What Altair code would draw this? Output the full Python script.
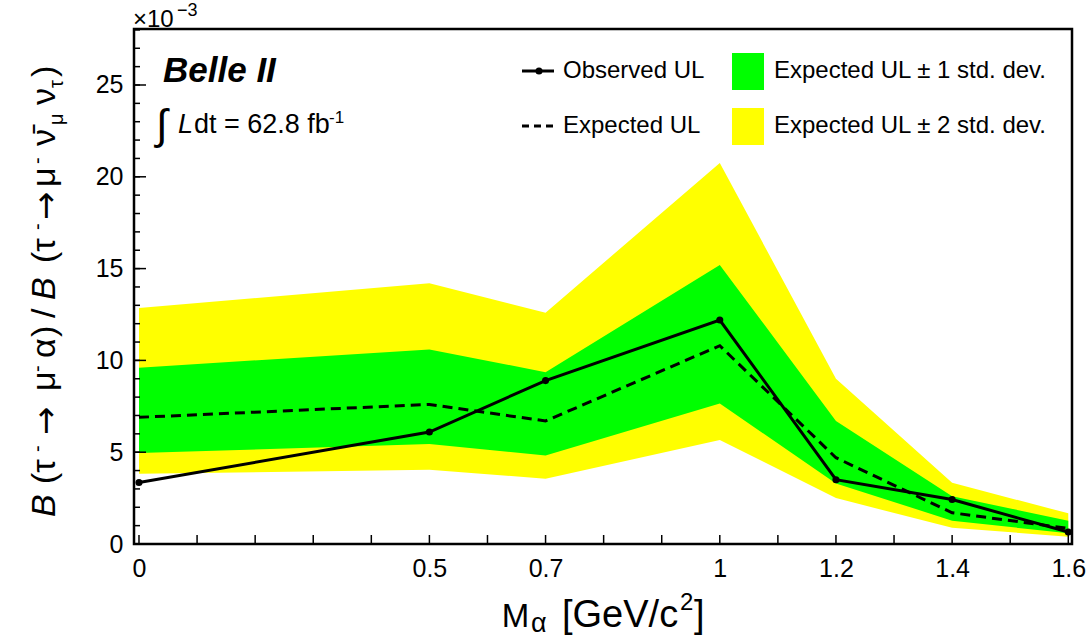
import altair as alt
import pandas as pd

# ---------------- data ----------------
mass = [0.0, 0.5, 0.7, 1.0, 1.2, 1.4, 1.6]
observed = [3.35, 6.1, 8.9, 12.2, 3.5, 2.42, 0.65]
expected = [6.9, 7.6, 6.7, 10.8, 4.7, 1.7, 0.85]
band1_lo = [4.95, 5.45, 4.82, 7.65, 3.3, 1.27, 0.58]
band1_hi = [9.6, 10.6, 9.36, 15.2, 6.7, 2.6, 1.27]
band2_lo = [3.82, 4.05, 3.55, 5.67, 2.5, 0.88, 0.4]
band2_hi = [12.85, 14.2, 12.6, 20.75, 9.0, 3.33, 1.67]

x_tick_values = [round(i * 0.1, 1) for i in range(17)]
x_label_values = [0, 0.5, 0.7, 1, 1.2, 1.4, 1.6]
y_major_values = [0, 5, 10, 15, 20, 25]
y_minor_values = list(range(0, 29))

df = pd.DataFrame({
    "mass": mass, "obs": observed, "exp": expected,
    "lo1": band1_lo, "hi1": band1_hi, "lo2": band2_lo, "hi2": band2_hi,
})

W, H = 938, 515
FONT = "Liberation Sans"
xscale = alt.Scale(domain=[-0.0086, 1.6064], nice=False, zero=False)
yscale = alt.Scale(domain=[0, 28.05], nice=False, zero=False)

label_expr = (
    "indexof([0,0.5,0.7,1,1.2,1.4,1.6], datum.value) >= 0 ? "
    "(datum.value == 0 ? '0' : (datum.value == 1 ? '1' : format(datum.value, '.1f'))) : ''"
)
x_axis = alt.Axis(values=x_tick_values, labelExpr=label_expr, ticks=False, tickSize=0,
                  domain=False, grid=False, title=None, labelFont=FONT, labelFontSize=25,
                  labelColor="black", labelPadding=12, labelOverlap=False, labelFlush=False)
y_axis = alt.Axis(values=y_major_values, ticks=False, tickSize=0, domain=False, grid=False,
                  title=None, labelFont=FONT, labelFontSize=25, labelColor="black",
                  labelPadding=11, labelOverlap=False, labelFlush=False)


def X(f):
    return alt.X(f, type="quantitative", scale=xscale, axis=x_axis)


def Y(f):
    return alt.Y(f, type="quantitative", scale=yscale, axis=y_axis)


base = alt.Chart(df)

yellow = base.mark_area(color="#FFFF00", opacity=1).encode(x=X("mass"), y=Y("lo2"), y2="hi2:Q")
green = base.mark_area(color="#00FF00", opacity=1).encode(x=X("mass"), y=Y("lo1"), y2="hi1:Q")
exp_line = base.mark_line(color="black", strokeWidth=3, strokeDash=[10, 6]).encode(x=X("mass"), y=Y("exp"))
obs_line = base.mark_line(color="black", strokeWidth=3).encode(x=X("mass"), y=Y("obs"))
obs_pts = base.mark_point(color="black", filled=True, size=50, opacity=1).encode(x=X("mass"), y=Y("obs"))

# inward ticks
xt = alt.Chart(pd.DataFrame({"mass": x_tick_values})).mark_rule(color="black", strokeWidth=1.5).encode(
    x=X("mass"), y=alt.value(H), y2=alt.value(H - 9))
ymaj = alt.Chart(pd.DataFrame({"obs": y_major_values})).mark_rule(color="black", strokeWidth=1.5).encode(
    y=Y("obs"), x=alt.value(0), x2=alt.value(12))
ymin = alt.Chart(pd.DataFrame({"obs": y_minor_values})).mark_rule(color="black", strokeWidth=1.5).encode(
    y=Y("obs"), x=alt.value(0), x2=alt.value(6))

one = alt.Data(values=[{}])

frame = alt.Chart(one).mark_rect(fillOpacity=0, stroke="black", strokeWidth=2.5).encode(
    x=alt.value(0), x2=alt.value(W), y=alt.value(0), y2=alt.value(H))


def txt(s, x, y, size, style="normal", weight="normal", angle=0, baseline="alphabetic",
        align="left", font=FONT):
    kw = dict(text=s, font=font, fontSize=size, fontStyle=style, fontWeight=weight,
              align=align, baseline=baseline, color="black")
    if angle:
        kw["angle"] = angle
    return alt.Chart(one).mark_text(**kw).encode(x=alt.value(x), y=alt.value(y))


# y title pieces: (text, bottom y in page px, size, style, kind)
YB = 55 - 134        # baseline x of the rotated title (plot coords)
y_title = [
    ("B", 517, 34, "italic", "n"),
    ("(τ", 484, 34, "normal", "n"),
    ("-", 452, 20, "normal", "sup"),
    ("→", 435, 34, "normal", "arrow"),
    ("μ", 391, 34, "normal", "n"),
    ("-", 372, 20, "normal", "sup"),
    ("α", 358, 34, "normal", "n"),
    (")", 337, 34, "normal", "n"),
    ("/", 318, 34, "normal", "n"),
    ("B", 300, 34, "italic", "n"),
    ("(τ", 263, 34, "normal", "n"),
    ("-", 230, 20, "normal", "sup"),
    ("→", 220, 34, "normal", "arrow"),
    ("μ", 187, 34, "normal", "n"),
    ("-", 164, 20, "normal", "sup"),
    ("ν\u0304", 146, 34, "normal", "n"),
    ("μ", 125, 20, "normal", "sub"),
    ("ν", 105, 34, "normal", "n"),
    ("τ", 88, 20, "normal", "sub"),
    (")", 77, 34, "normal", "n"),
]
ytexts = []
for s, yb, size, style, kind in y_title:
    bx = YB
    font = FONT
    if kind == "sup":
        bx = YB - 11
    elif kind == "sub":
        bx = YB + 8
    elif kind == "arrow":
        font = "DejaVu Sans"
        bx = YB + 2
    ytexts.append(txt(s, bx, yb - 29, size, style=style, angle=270, font=font))

texts = [
    # x10^-3
    txt("×10", -1, -2, 24),
    txt("−3", 43, -13, 18),
    # Belle II and luminosity
    txt("Belle II", 29, 53, 35, style="italic", weight="bold"),
    txt("∫", 22, 110, 42),
    txt("L", 44, 104, 27, style="italic"),
    txt("dt = 62.8 fb", 60, 104, 27),
    txt("-1", 195, 94, 17),
    # legend texts
    txt("Observed UL", 429, 42, 24, baseline="middle"),
    txt("Expected UL", 429, 97, 24, baseline="middle"),
    txt("Expected UL ± 1 std. dev.", 640, 42, 24, baseline="middle"),
    txt("Expected UL ± 2 std. dev.", 640, 97, 24, baseline="middle"),
    # x title
    txt("M", 367.7, 597.7, 33),
    txt("α", 397, 603, 27),
    txt("[GeV/c", 428, 597.7, 38),
    txt("2", 546, 581, 24),
    txt("]", 560, 597.7, 38),
]

leg_obs = alt.Chart(one).mark_rule(color="black", strokeWidth=3).encode(
    x=alt.value(388), x2=alt.value(420), y=alt.value(42))
leg_dot = alt.Chart(one).mark_point(color="black", filled=True, size=50, opacity=1).encode(
    x=alt.value(405), y=alt.value(42))
leg_exp = alt.Chart(one).mark_rule(color="black", strokeWidth=3, strokeDash=[7, 5]).encode(
    x=alt.value(388), x2=alt.value(420), y=alt.value(97))
leg_g = alt.Chart(one).mark_rect(color="#00FF00").encode(
    x=alt.value(598), x2=alt.value(630), y=alt.value(24), y2=alt.value(61))
leg_y = alt.Chart(one).mark_rect(color="#FFFF00").encode(
    x=alt.value(598), x2=alt.value(630), y=alt.value(79), y2=alt.value(116))

chart = alt.layer(
    yellow, green, exp_line, obs_line, obs_pts, xt, ymaj, ymin, frame,
    leg_obs, leg_dot, leg_exp, leg_g, leg_y, *texts, *ytexts
).properties(
    width=W, height=H,
    padding={"left": 134, "top": 29, "right": 17, "bottom": 96},
    autosize=alt.AutoSizeParams(type="none"),
    background="white",
).configure_view(stroke=None)

chart.save("out.html", embed_options={"renderer": "svg", "actions": False})
